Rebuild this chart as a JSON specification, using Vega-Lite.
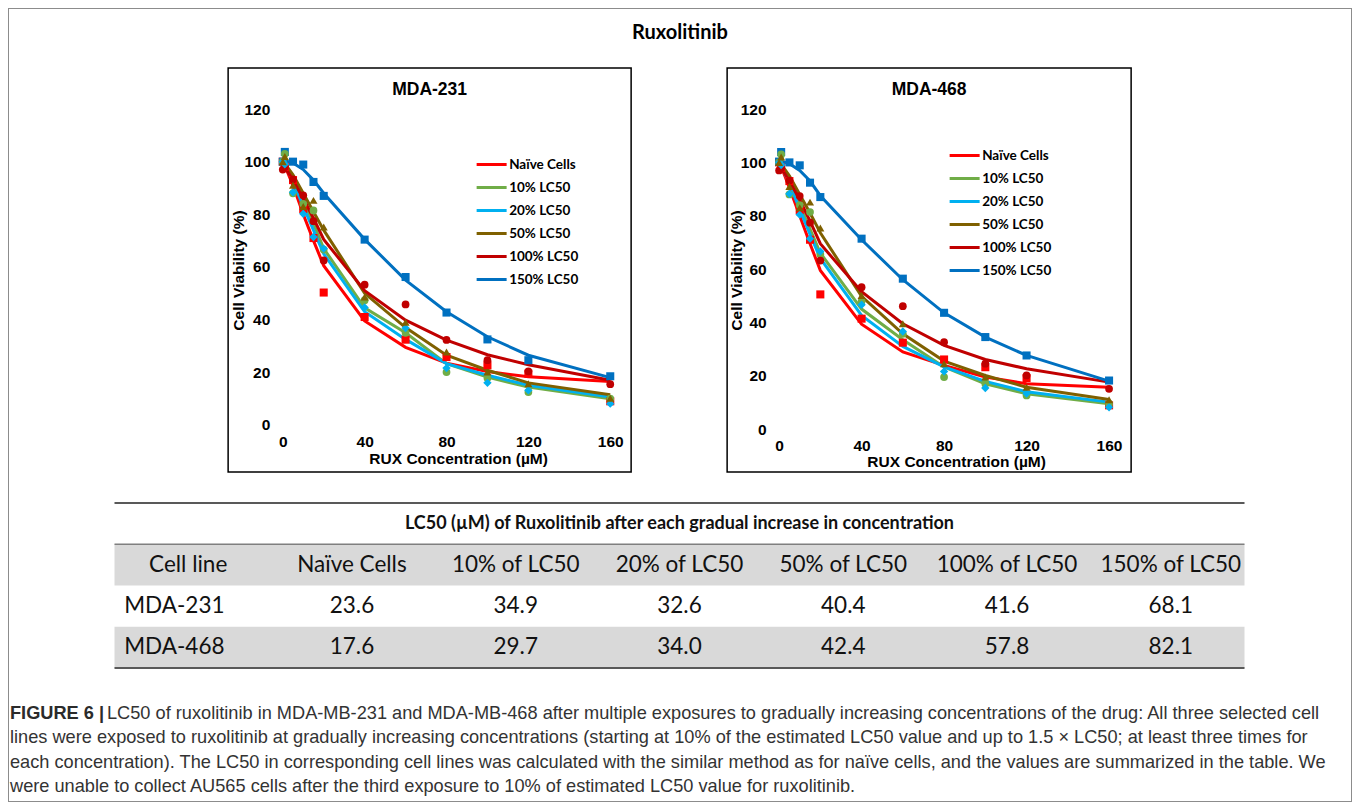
{
"$schema":"https://vega.github.io/schema/vega-lite/v6.json",
"background":"white",
"padding":{"left":8,"top":8,"right":8,"bottom":8},
"autosize":{"type":"pad"},
"config":{"font":"Liberation Sans","view":{"stroke":null}},
"datasets":{
"fit231":[
{"s":"Naïve Cells","c":0,"v":100},{"s":"Naïve Cells","c":1,"v":98.5},{"s":"Naïve Cells","c":5,"v":91},{"s":"Naïve Cells","c":10,"v":80},{"s":"Naïve Cells","c":15,"v":70},{"s":"Naïve Cells","c":20,"v":60.5},{"s":"Naïve Cells","c":40,"v":39.5},{"s":"Naïve Cells","c":60,"v":29.5},{"s":"Naïve Cells","c":80,"v":23.5},{"s":"Naïve Cells","c":100,"v":20.3},{"s":"Naïve Cells","c":120,"v":18.3},{"s":"Naïve Cells","c":160,"v":16.5},
{"s":"10% LC50","c":0,"v":100},{"s":"10% LC50","c":1,"v":99},{"s":"10% LC50","c":5,"v":93.5},{"s":"10% LC50","c":10,"v":85},{"s":"10% LC50","c":15,"v":76.5},{"s":"10% LC50","c":20,"v":67},{"s":"10% LC50","c":40,"v":44.5},{"s":"10% LC50","c":60,"v":35},{"s":"10% LC50","c":80,"v":23.3},{"s":"10% LC50","c":100,"v":18.2},{"s":"10% LC50","c":120,"v":14.4},{"s":"10% LC50","c":160,"v":10},
{"s":"20% LC50","c":0,"v":100},{"s":"20% LC50","c":1,"v":99},{"s":"20% LC50","c":5,"v":92.5},{"s":"20% LC50","c":10,"v":83},{"s":"20% LC50","c":15,"v":74},{"s":"20% LC50","c":20,"v":65},{"s":"20% LC50","c":40,"v":43},{"s":"20% LC50","c":60,"v":32.5},{"s":"20% LC50","c":80,"v":23.3},{"s":"20% LC50","c":100,"v":18.9},{"s":"20% LC50","c":120,"v":15.1},{"s":"20% LC50","c":160,"v":10.6},
{"s":"50% LC50","c":0,"v":100},{"s":"50% LC50","c":1,"v":99.3},{"s":"50% LC50","c":5,"v":95},{"s":"50% LC50","c":10,"v":88},{"s":"50% LC50","c":15,"v":81},{"s":"50% LC50","c":20,"v":74},{"s":"50% LC50","c":40,"v":50},{"s":"50% LC50","c":60,"v":37},{"s":"50% LC50","c":80,"v":26.5},{"s":"50% LC50","c":100,"v":20.8},{"s":"50% LC50","c":120,"v":16},{"s":"50% LC50","c":160,"v":11.5},
{"s":"100% LC50","c":0,"v":99},{"s":"100% LC50","c":1,"v":98},{"s":"100% LC50","c":5,"v":93},{"s":"100% LC50","c":10,"v":86},{"s":"100% LC50","c":15,"v":78.5},{"s":"100% LC50","c":20,"v":70.5},{"s":"100% LC50","c":40,"v":51},{"s":"100% LC50","c":60,"v":39.8},{"s":"100% LC50","c":80,"v":32.2},{"s":"100% LC50","c":100,"v":26.7},{"s":"100% LC50","c":120,"v":22.9},{"s":"100% LC50","c":160,"v":17},
{"s":"150% LC50","c":0,"v":100.5},{"s":"150% LC50","c":1,"v":100.4},{"s":"150% LC50","c":5,"v":99.5},{"s":"150% LC50","c":10,"v":97},{"s":"150% LC50","c":15,"v":93},{"s":"150% LC50","c":20,"v":88},{"s":"150% LC50","c":40,"v":70.5},{"s":"150% LC50","c":60,"v":55},{"s":"150% LC50","c":80,"v":43},{"s":"150% LC50","c":100,"v":33.5},{"s":"150% LC50","c":120,"v":26.5},{"s":"150% LC50","c":160,"v":18}
],
"obs231":[
{"s":"Naïve Cells","c":0,"v":100},{"s":"Naïve Cells","c":1,"v":98},{"s":"Naïve Cells","c":5,"v":93},{"s":"Naïve Cells","c":10,"v":82},{"s":"Naïve Cells","c":15,"v":71},{"s":"Naïve Cells","c":20,"v":50.3},{"s":"Naïve Cells","c":40,"v":41},{"s":"Naïve Cells","c":60,"v":32.4},{"s":"Naïve Cells","c":80,"v":25.8},{"s":"Naïve Cells","c":100,"v":22.7},{"s":"Naïve Cells","c":120,"v":19.5},{"s":"Naïve Cells","c":160,"v":9},
{"s":"10% LC50","c":0,"v":100},{"s":"10% LC50","c":1,"v":103},{"s":"10% LC50","c":5,"v":88},{"s":"10% LC50","c":10,"v":84},{"s":"10% LC50","c":15,"v":81.5},{"s":"10% LC50","c":20,"v":66.6},{"s":"10% LC50","c":40,"v":47.4},{"s":"10% LC50","c":60,"v":35},{"s":"10% LC50","c":80,"v":20.1},{"s":"10% LC50","c":100,"v":17.8},{"s":"10% LC50","c":120,"v":12.5},{"s":"10% LC50","c":160,"v":10},
{"s":"20% LC50","c":0,"v":100},{"s":"20% LC50","c":1,"v":99},{"s":"20% LC50","c":5,"v":88.4},{"s":"20% LC50","c":10,"v":80.2},{"s":"20% LC50","c":15,"v":71.4},{"s":"20% LC50","c":20,"v":67},{"s":"20% LC50","c":40,"v":44.6},{"s":"20% LC50","c":60,"v":36.8},{"s":"20% LC50","c":80,"v":21.6},{"s":"20% LC50","c":100,"v":16},{"s":"20% LC50","c":120,"v":13.2},{"s":"20% LC50","c":160,"v":8.1},
{"s":"50% LC50","c":0,"v":100},{"s":"50% LC50","c":1,"v":102},{"s":"50% LC50","c":5,"v":91},{"s":"50% LC50","c":10,"v":83},{"s":"50% LC50","c":15,"v":85.3},{"s":"50% LC50","c":20,"v":75.2},{"s":"50% LC50","c":40,"v":48.6},{"s":"50% LC50","c":60,"v":39},{"s":"50% LC50","c":80,"v":27.7},{"s":"50% LC50","c":100,"v":20.1},{"s":"50% LC50","c":120,"v":15.7},{"s":"50% LC50","c":160,"v":10.2},
{"s":"100% LC50","c":0,"v":97},{"s":"100% LC50","c":1,"v":98},{"s":"100% LC50","c":5,"v":93.3},{"s":"100% LC50","c":10,"v":87.2},{"s":"100% LC50","c":15,"v":77.4},{"s":"100% LC50","c":20,"v":62.5},{"s":"100% LC50","c":40,"v":53.3},{"s":"100% LC50","c":60,"v":45.8},{"s":"100% LC50","c":80,"v":32.3},{"s":"100% LC50","c":100,"v":24.6},{"s":"100% LC50","c":120,"v":20.4},{"s":"100% LC50","c":160,"v":15.5},
{"s":"150% LC50","c":0,"v":100},{"s":"150% LC50","c":1,"v":103.7},{"s":"150% LC50","c":5,"v":100},{"s":"150% LC50","c":10,"v":98.9},{"s":"150% LC50","c":15,"v":92.3},{"s":"150% LC50","c":20,"v":87},{"s":"150% LC50","c":40,"v":70.4},{"s":"150% LC50","c":60,"v":56.2},{"s":"150% LC50","c":80,"v":42.7},{"s":"150% LC50","c":100,"v":32.5},{"s":"150% LC50","c":120,"v":24.6},{"s":"150% LC50","c":160,"v":18.5}
],
"fit468":[
{"s":"Naïve Cells","c":0,"v":100},{"s":"Naïve Cells","c":1,"v":98.5},{"s":"Naïve Cells","c":5,"v":90.5},{"s":"Naïve Cells","c":10,"v":80},{"s":"Naïve Cells","c":15,"v":69.5},{"s":"Naïve Cells","c":20,"v":59.5},{"s":"Naïve Cells","c":40,"v":39.3},{"s":"Naïve Cells","c":60,"v":28.9},{"s":"Naïve Cells","c":80,"v":23.9},{"s":"Naïve Cells","c":100,"v":19.5},{"s":"Naïve Cells","c":120,"v":17},{"s":"Naïve Cells","c":160,"v":15.7},
{"s":"10% LC50","c":0,"v":100},{"s":"10% LC50","c":1,"v":99},{"s":"10% LC50","c":5,"v":93},{"s":"10% LC50","c":10,"v":84},{"s":"10% LC50","c":15,"v":75},{"s":"10% LC50","c":20,"v":66},{"s":"10% LC50","c":40,"v":45},{"s":"10% LC50","c":60,"v":33.5},{"s":"10% LC50","c":80,"v":23.3},{"s":"10% LC50","c":100,"v":17},{"s":"10% LC50","c":120,"v":13.2},{"s":"10% LC50","c":160,"v":9.5},
{"s":"20% LC50","c":0,"v":100},{"s":"20% LC50","c":1,"v":99},{"s":"20% LC50","c":5,"v":92},{"s":"20% LC50","c":10,"v":82.5},{"s":"20% LC50","c":15,"v":73},{"s":"20% LC50","c":20,"v":64},{"s":"20% LC50","c":40,"v":42.6},{"s":"20% LC50","c":60,"v":31},{"s":"20% LC50","c":80,"v":23.3},{"s":"20% LC50","c":100,"v":17.9},{"s":"20% LC50","c":120,"v":14},{"s":"20% LC50","c":160,"v":10.1},
{"s":"50% LC50","c":0,"v":100},{"s":"50% LC50","c":1,"v":99.3},{"s":"50% LC50","c":5,"v":95},{"s":"50% LC50","c":10,"v":88},{"s":"50% LC50","c":15,"v":81},{"s":"50% LC50","c":20,"v":73.6},{"s":"50% LC50","c":40,"v":49.8},{"s":"50% LC50","c":60,"v":35.7},{"s":"50% LC50","c":80,"v":25.5},{"s":"50% LC50","c":100,"v":20.1},{"s":"50% LC50","c":120,"v":15.7},{"s":"50% LC50","c":160,"v":11.1},
{"s":"100% LC50","c":0,"v":99},{"s":"100% LC50","c":1,"v":98},{"s":"100% LC50","c":5,"v":93},{"s":"100% LC50","c":10,"v":86},{"s":"100% LC50","c":15,"v":78},{"s":"100% LC50","c":20,"v":69.5},{"s":"100% LC50","c":40,"v":51.5},{"s":"100% LC50","c":60,"v":39.5},{"s":"100% LC50","c":80,"v":31.4},{"s":"100% LC50","c":100,"v":26.1},{"s":"100% LC50","c":120,"v":22.6},{"s":"100% LC50","c":160,"v":17.6},
{"s":"150% LC50","c":0,"v":100.5},{"s":"150% LC50","c":1,"v":100.4},{"s":"150% LC50","c":5,"v":99.5},{"s":"150% LC50","c":10,"v":97},{"s":"150% LC50","c":15,"v":93},{"s":"150% LC50","c":20,"v":87.5},{"s":"150% LC50","c":40,"v":71},{"s":"150% LC50","c":60,"v":56},{"s":"150% LC50","c":80,"v":43.6},{"s":"150% LC50","c":100,"v":34.5},{"s":"150% LC50","c":120,"v":27.6},{"s":"150% LC50","c":160,"v":18}
],
"obs468":[
{"s":"Naïve Cells","c":0,"v":100},{"s":"Naïve Cells","c":1,"v":98},{"s":"Naïve Cells","c":5,"v":93},{"s":"Naïve Cells","c":10,"v":82},{"s":"Naïve Cells","c":15,"v":71},{"s":"Naïve Cells","c":20,"v":50.5},{"s":"Naïve Cells","c":40,"v":41.4},{"s":"Naïve Cells","c":60,"v":32.4},{"s":"Naïve Cells","c":80,"v":26.1},{"s":"Naïve Cells","c":100,"v":23.2},{"s":"Naïve Cells","c":120,"v":19.1},{"s":"Naïve Cells","c":160,"v":8.9},
{"s":"10% LC50","c":0,"v":100},{"s":"10% LC50","c":1,"v":103},{"s":"10% LC50","c":5,"v":88},{"s":"10% LC50","c":10,"v":84},{"s":"10% LC50","c":15,"v":81.4},{"s":"10% LC50","c":20,"v":65.5},{"s":"10% LC50","c":40,"v":47.9},{"s":"10% LC50","c":60,"v":35.7},{"s":"10% LC50","c":80,"v":19.5},{"s":"10% LC50","c":100,"v":17},{"s":"10% LC50","c":120,"v":12.6},{"s":"10% LC50","c":160,"v":9.5},
{"s":"20% LC50","c":0,"v":100},{"s":"20% LC50","c":1,"v":99},{"s":"20% LC50","c":5,"v":88.2},{"s":"20% LC50","c":10,"v":80.4},{"s":"20% LC50","c":15,"v":71.4},{"s":"20% LC50","c":20,"v":66.6},{"s":"20% LC50","c":40,"v":46.6},{"s":"20% LC50","c":60,"v":36.6},{"s":"20% LC50","c":80,"v":21.6},{"s":"20% LC50","c":100,"v":15.4},{"s":"20% LC50","c":120,"v":13.3},{"s":"20% LC50","c":160,"v":8.2},
{"s":"50% LC50","c":0,"v":100},{"s":"50% LC50","c":1,"v":102},{"s":"50% LC50","c":5,"v":91},{"s":"50% LC50","c":10,"v":83},{"s":"50% LC50","c":15,"v":85.1},{"s":"50% LC50","c":20,"v":75.4},{"s":"50% LC50","c":40,"v":50.1},{"s":"50% LC50","c":60,"v":39.5},{"s":"50% LC50","c":80,"v":24.5},{"s":"50% LC50","c":100,"v":19.5},{"s":"50% LC50","c":120,"v":15.7},{"s":"50% LC50","c":160,"v":11},
{"s":"100% LC50","c":0,"v":97},{"s":"100% LC50","c":1,"v":97.9},{"s":"100% LC50","c":5,"v":93.2},{"s":"100% LC50","c":10,"v":87.4},{"s":"100% LC50","c":15,"v":77.4},{"s":"100% LC50","c":20,"v":63.2},{"s":"100% LC50","c":40,"v":53.2},{"s":"100% LC50","c":60,"v":46.1},{"s":"100% LC50","c":80,"v":32.6},{"s":"100% LC50","c":100,"v":24.5},{"s":"100% LC50","c":120,"v":20.1},{"s":"100% LC50","c":160,"v":15.1},
{"s":"150% LC50","c":0,"v":100.3},{"s":"150% LC50","c":1,"v":103.9},{"s":"150% LC50","c":5,"v":100},{"s":"150% LC50","c":10,"v":98.9},{"s":"150% LC50","c":15,"v":92.4},{"s":"150% LC50","c":20,"v":87},{"s":"150% LC50","c":40,"v":71.4},{"s":"150% LC50","c":60,"v":56.4},{"s":"150% LC50","c":80,"v":43.6},{"s":"150% LC50","c":100,"v":34.5},{"s":"150% LC50","c":120,"v":27.6},{"s":"150% LC50","c":160,"v":18.2}
]
},
"spacing":0,
"vconcat":[
{
 "width":1344,"height":1,
 "view":{"fill":"#8c8c8c","stroke":null},
 "data":{"values":[{"t":""}]},
 "mark":{"type":"text","fontSize":0},
 "encoding":{"text":{"field":"t"}}
},
{
 "spacing":1,
 "hconcat":[
 {
  "width":1,"height":792,
  "view":{"fill":"#8c8c8c","stroke":null},
  "data":{"values":[{"t":""}]},
  "mark":{"type":"text","fontSize":0},
  "encoding":{"text":{"field":"t"}}
 },
 {
 "spacing":33,
 "center":true,
 "vconcat":[
 {
 "spacing":29,
 "center":true,
 "vconcat":[
 {
 "spacing":10,
 "center":true,
 "vconcat":[
 {
  "width":1340,"height":48,
  "view":{"stroke":null},
  "data":{"values":[{"t":"Ruxolitinib"}]},
  "mark":{"type":"text","font":"Lato","fontSize":20,"fontWeight":"bold","color":"#000","baseline":"middle","align":"center"},
  "encoding":{"text":{"field":"t"}}
 },
 {
  "spacing":94,
  "resolve":{"scale":{"x":"independent","y":"independent","color":"independent"},"legend":{"color":"independent"}},
  "hconcat":[
  {
   "width":403,"height":404,
   "view":{"stroke":"#000","strokeWidth":1.5},
   "title":{"text":"MDA-231","offset":-30,"baseline":"top","anchor":"middle","frame":"group","font":"Liberation Sans","fontSize":17.5,"fontWeight":"bold","color":"#000"},
   "encoding":{
    "x":{"field":"c","type":"quantitative","scale":{"domain":[-26.7,170.2],"nice":false,"zero":false},
         "axis":{"values":[0,40,80,120,160],"offset":-47,"domain":false,"ticks":false,"grid":false,"labelPadding":9,"labelFont":"Liberation Sans","labelFontSize":15.5,"labelFontWeight":"bold","labelColor":"#000","labelFlush":false,"labelOverlap":false,"title":"RUX Concentration (µM)","titleFont":"Liberation Sans","titleFontSize":15.5,"titleFontWeight":"bold","titleColor":"#000","titlePadding":2,"titleX":230}},
    "y":{"field":"v","type":"quantitative","scale":{"domain":[-17.85,135.57],"nice":false,"zero":false},
         "axis":{"values":[0,20,40,60,80,100,120],"offset":-54.7,"domain":false,"ticks":false,"grid":false,"labelPadding":13,"labelFont":"Liberation Sans","labelFontSize":15.5,"labelFontWeight":"bold","labelColor":"#000","labelFlush":false,"labelOverlap":false,"title":"Cell Viability (%)","titleFont":"Liberation Sans","titleFontSize":15.5,"titleFontWeight":"bold","titleColor":"#000","titlePadding":-3}},
    "color":{"field":"s","type":"nominal","scale":{"domain":["Naïve Cells","10% LC50","20% LC50","50% LC50","100% LC50","150% LC50"],"range":["#ff0000","#70ad47","#00b0f0","#7f6000","#c00000","#0070c0"]},
         "legend":{"orient":"none","legendX":247,"legendY":80,"title":null,"symbolType":"stroke","symbolSize":900,"symbolStrokeWidth":3,"labelFont":"Lato","labelFontSize":13.5,"labelFontWeight":"bold","labelColor":"#000","labelOffset":1,"rowPadding":-8,"padding":0}}
   },
   "layer":[
    {"data":{"name":"fit231"},"mark":{"type":"line","strokeWidth":3}},
    {"data":{"values":[{"a":1}]},"mark":{"type":"rule","color":"#808080","strokeWidth":1.5},
     "encoding":{"x":{"datum":0,"type":"quantitative"},"y":{"datum":0,"type":"quantitative"},"y2":{"datum":120},"color":{"value":"#808080"}}},
    {"data":{"values":[{"a":1}]},"mark":{"type":"rule","color":"#808080","strokeWidth":1.5},
     "encoding":{"x":{"datum":0,"type":"quantitative"},"x2":{"datum":160},"y":{"datum":0,"type":"quantitative"},"color":{"value":"#808080"}}},
    {"data":{"name":"obs231"},"transform":[{"filter":{"field":"s","oneOf":["Naïve Cells","150% LC50"]}}],"mark":{"type":"point","shape":"square","filled":true,"size":65,"opacity":1,"strokeWidth":0}},
    {"data":{"name":"obs231"},"transform":[{"filter":{"field":"s","oneOf":["10% LC50","100% LC50"]}}],"mark":{"type":"point","shape":"circle","filled":true,"size":60,"opacity":1,"strokeWidth":0}},
    {"data":{"name":"obs231"},"transform":[{"filter":{"field":"s","oneOf":["20% LC50"]}}],"mark":{"type":"point","shape":"diamond","filled":true,"size":70,"opacity":1,"strokeWidth":0}},
    {"data":{"name":"obs231"},"transform":[{"filter":{"field":"s","oneOf":["50% LC50"]}}],"mark":{"type":"point","shape":"triangle-up","filled":true,"size":65,"opacity":1,"strokeWidth":0}}
   ]
  },
  {
   "width":404,"height":404,
   "view":{"stroke":"#000","strokeWidth":1.5},
   "title":{"text":"MDA-468","offset":-30,"baseline":"top","anchor":"middle","frame":"group","font":"Liberation Sans","fontSize":17.5,"fontWeight":"bold","color":"#000"},
   "encoding":{
    "x":{"field":"c","type":"quantitative","scale":{"domain":[-25.2,170.7],"nice":false,"zero":false},
         "axis":{"values":[0,40,80,120,160],"offset":-43,"domain":false,"ticks":false,"grid":false,"labelPadding":9,"labelFont":"Liberation Sans","labelFontSize":15.5,"labelFontWeight":"bold","labelColor":"#000","labelFlush":false,"labelOverlap":false,"title":"RUX Concentration (µM)","titleFont":"Liberation Sans","titleFontSize":15.5,"titleFontWeight":"bold","titleColor":"#000","titlePadding":1,"titleX":229}},
    "y":{"field":"v","type":"quantitative","scale":{"domain":[-16.1,135.4],"nice":false,"zero":false},
         "axis":{"values":[0,20,40,60,80,100,120],"offset":-52,"domain":false,"ticks":false,"grid":false,"labelPadding":13,"labelFont":"Liberation Sans","labelFontSize":15.5,"labelFontWeight":"bold","labelColor":"#000","labelFlush":false,"labelOverlap":false,"title":"Cell Viability (%)","titleFont":"Liberation Sans","titleFontSize":15.5,"titleFontWeight":"bold","titleColor":"#000","titlePadding":-4}},
    "color":{"field":"s","type":"nominal","scale":{"domain":["Naïve Cells","10% LC50","20% LC50","50% LC50","100% LC50","150% LC50"],"range":["#ff0000","#70ad47","#00b0f0","#7f6000","#c00000","#0070c0"]},
         "legend":{"orient":"none","legendX":221,"legendY":71,"title":null,"symbolType":"stroke","symbolSize":900,"symbolStrokeWidth":3,"labelFont":"Lato","labelFontSize":13.5,"labelFontWeight":"bold","labelColor":"#000","labelOffset":1,"rowPadding":-8,"padding":0}}
   },
   "layer":[
    {"data":{"name":"fit468"},"mark":{"type":"line","strokeWidth":3}},
    {"data":{"values":[{"a":1}]},"mark":{"type":"rule","color":"#808080","strokeWidth":1.5},
     "encoding":{"x":{"datum":0,"type":"quantitative"},"y":{"datum":0,"type":"quantitative"},"y2":{"datum":120},"color":{"value":"#808080"}}},
    {"data":{"values":[{"a":1}]},"mark":{"type":"rule","color":"#808080","strokeWidth":1.5},
     "encoding":{"x":{"datum":0,"type":"quantitative"},"x2":{"datum":160},"y":{"datum":0,"type":"quantitative"},"color":{"value":"#808080"}}},
    {"data":{"name":"obs468"},"transform":[{"filter":{"field":"s","oneOf":["Naïve Cells","150% LC50"]}}],"mark":{"type":"point","shape":"square","filled":true,"size":65,"opacity":1,"strokeWidth":0}},
    {"data":{"name":"obs468"},"transform":[{"filter":{"field":"s","oneOf":["10% LC50","100% LC50"]}}],"mark":{"type":"point","shape":"circle","filled":true,"size":60,"opacity":1,"strokeWidth":0}},
    {"data":{"name":"obs468"},"transform":[{"filter":{"field":"s","oneOf":["20% LC50"]}}],"mark":{"type":"point","shape":"diamond","filled":true,"size":70,"opacity":1,"strokeWidth":0}},
    {"data":{"name":"obs468"},"transform":[{"filter":{"field":"s","oneOf":["50% LC50"]}}],"mark":{"type":"point","shape":"triangle-up","filled":true,"size":65,"opacity":1,"strokeWidth":0}}
   ]
  }
  ]
 }
 ]
 },
 {
  "width":1130,"height":165,
  "view":{"stroke":null},
  "layer":[
   {"data":{"values":[{"row":"header"},{"row":"MDA-468"}]},"mark":{"type":"rect","color":"#d9d9d9"},
    "encoding":{"y":{"field":"row","type":"nominal","scale":{"domain":["title","header","MDA-231","MDA-468"],"paddingInner":0,"paddingOuter":0},"axis":null}}},
   {"data":{"values":[{"row":"title"}]},"mark":{"type":"rule","color":"#595959","strokeWidth":2},
    "encoding":{"y":{"field":"row","type":"nominal","bandPosition":0}}},
   {"data":{"values":[{"row":"header"}]},"mark":{"type":"rule","color":"#7f7f7f","strokeWidth":1.5},
    "encoding":{"y":{"field":"row","type":"nominal","bandPosition":0}}},
   {"data":{"values":[{"row":"MDA-468"}]},"mark":{"type":"rule","color":"#595959","strokeWidth":2},
    "encoding":{"y":{"field":"row","type":"nominal","bandPosition":1}}},
   {"data":{"values":[{"row":"title","text":"LC50 (µM) of Ruxolitinib after each gradual increase in concentration"}]},
    "mark":{"type":"text","font":"Lato","fontSize":18,"fontWeight":"bold","color":"#111","baseline":"middle"},
    "encoding":{"y":{"field":"row","type":"nominal"},"text":{"field":"text"}}},
   {"data":{"values":[
     {"row":"header","col":"Cell line","text":"Cell line"},
     {"row":"header","col":"Naïve Cells","text":"Naïve Cells"},
     {"row":"header","col":"10% of LC50","text":"10% of LC50"},
     {"row":"header","col":"20% of LC50","text":"20% of LC50"},
     {"row":"header","col":"50% of LC50","text":"50% of LC50"},
     {"row":"header","col":"100% of LC50","text":"100% of LC50"},
     {"row":"header","col":"150% of LC50","text":"150% of LC50"},
     {"row":"MDA-231","col":"Naïve Cells","text":"23.6"},
     {"row":"MDA-231","col":"10% of LC50","text":"34.9"},
     {"row":"MDA-231","col":"20% of LC50","text":"32.6"},
     {"row":"MDA-231","col":"50% of LC50","text":"40.4"},
     {"row":"MDA-231","col":"100% of LC50","text":"41.6"},
     {"row":"MDA-231","col":"150% of LC50","text":"68.1"},
     {"row":"MDA-468","col":"Naïve Cells","text":"17.6"},
     {"row":"MDA-468","col":"10% of LC50","text":"29.7"},
     {"row":"MDA-468","col":"20% of LC50","text":"34.0"},
     {"row":"MDA-468","col":"50% of LC50","text":"42.4"},
     {"row":"MDA-468","col":"100% of LC50","text":"57.8"},
     {"row":"MDA-468","col":"150% of LC50","text":"82.1"}
    ]},
    "mark":{"type":"text","font":"Lato","fontSize":22.5,"color":"#111","baseline":"middle","align":"center"},
    "encoding":{
     "x":{"field":"col","type":"nominal","scale":{"type":"point","domain":["Cell line","Naïve Cells","10% of LC50","20% of LC50","50% of LC50","100% of LC50","150% of LC50"],"padding":0.45},"axis":null},
     "y":{"field":"row","type":"nominal"},
     "text":{"field":"text"}}},
   {"data":{"values":[
     {"row":"MDA-231","col":"Cell line","text":"MDA-231"},
     {"row":"MDA-468","col":"Cell line","text":"MDA-468"}
    ]},
    "mark":{"type":"text","font":"Lato","fontSize":22.5,"color":"#111","baseline":"middle","align":"left","dx":-64},
    "encoding":{
     "x":{"field":"col","type":"nominal"},
     "y":{"field":"row","type":"nominal"},
     "text":{"field":"text"}}}
  ]
 }
 ]
 },
 {
  "width":1340,"height":97,
  "view":{"stroke":null},
  "layer":[
   {"data":{"values":[{"ln":1,"t":"FIGURE 6 |"}]},
    "mark":{"type":"text","font":"Liberation Sans","fontSize":18.2,"fontWeight":"bold","color":"#2b2b2b","align":"left","baseline":"middle"},
    "encoding":{
     "x":{"datum":0,"type":"quantitative","scale":{"domain":[0,1],"nice":false,"zero":false},"axis":null},
     "y":{"field":"ln","type":"ordinal","scale":{"domain":[1,2,3,4],"paddingInner":0,"paddingOuter":0},"axis":null},
     "text":{"field":"t"}}},
   {"data":{"values":[{"ln":1,"t":"LC50 of ruxolitinib in MDA-MB-231 and MDA-MB-468 after multiple exposures to gradually increasing concentrations of the drug: All three selected cell"}]},
    "mark":{"type":"text","font":"Liberation Sans","fontSize":18.2,"color":"#333","align":"left","baseline":"middle","dx":97},
    "encoding":{
     "x":{"datum":0,"type":"quantitative"},
     "y":{"field":"ln","type":"ordinal"},
     "text":{"field":"t"}}},
   {"data":{"values":[
     {"ln":2,"t":"lines were exposed to ruxolitinib at gradually increasing concentrations (starting at 10% of the estimated LC50 value and up to 1.5 × LC50; at least three times for"},
     {"ln":3,"t":"each concentration). The LC50 in corresponding cell lines was calculated with the similar method as for naïve cells, and the values are summarized in the table. We"},
     {"ln":4,"t":"were unable to collect AU565 cells after the third exposure to 10% of estimated LC50 value for ruxolitinib."}
    ]},
    "mark":{"type":"text","font":"Liberation Sans","fontSize":18.2,"color":"#333","align":"left","baseline":"middle"},
    "encoding":{
     "x":{"datum":0,"type":"quantitative"},
     "y":{"field":"ln","type":"ordinal"},
     "text":{"field":"t"}}}
  ]
 }
 ]
 },
 {
  "width":1,"height":792,
  "view":{"fill":"#8c8c8c","stroke":null},
  "data":{"values":[{"t":""}]},
  "mark":{"type":"text","fontSize":0},
  "encoding":{"text":{"field":"t"}}
 }
 ]
},
{
 "width":1344,"height":1,
 "view":{"fill":"#8c8c8c","stroke":null},
 "data":{"values":[{"t":""}]},
 "mark":{"type":"text","fontSize":0},
 "encoding":{"text":{"field":"t"}}
}
]
}
